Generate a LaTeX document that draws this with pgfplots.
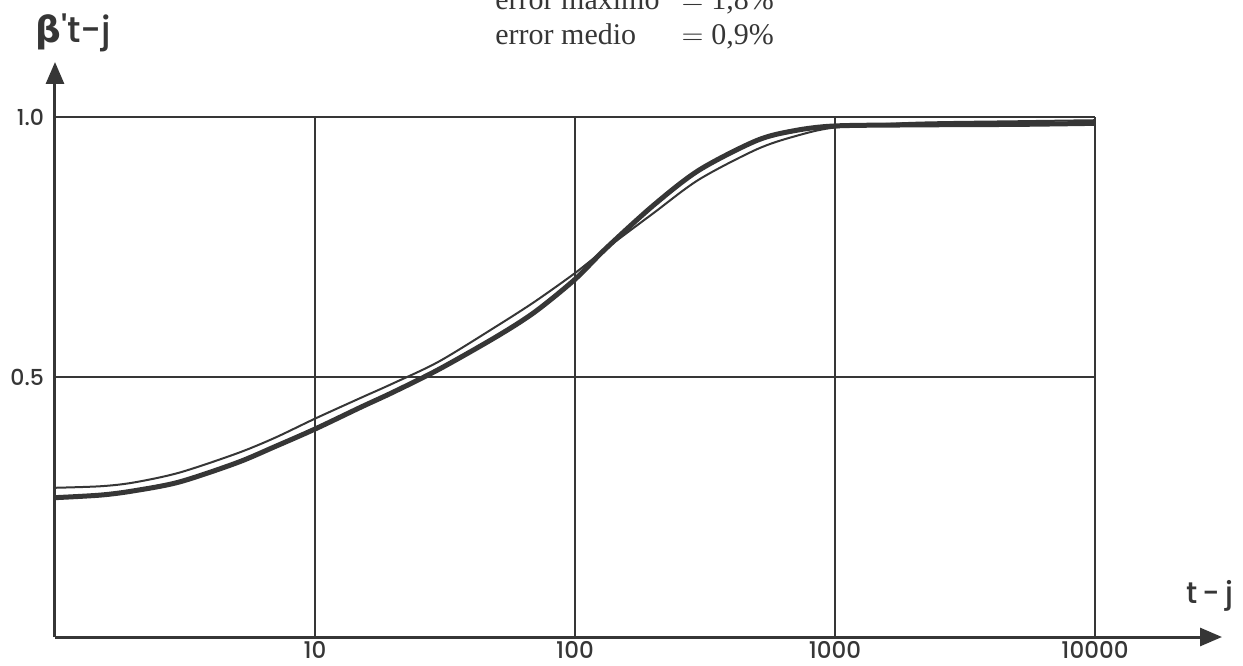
\documentclass[border=0pt]{standalone}
\usepackage{fontspec}
\setmainfont{Liberation Serif}
\newfontfamily\pop{Poppins}[UprightFont={* Medium}]
\newfontfamily\grk{DejaVu Sans}[UprightFont={* Bold}]
\usepackage{pgfplots}
\pgfplotsset{compat=1.18}
\usetikzlibrary{arrows.meta}
\definecolor{ink}{HTML}{363636}

\pgfplotstableread{
x y
1 0.268
1.5 0.273
2 0.281
3 0.298
5 0.335
7 0.366
10 0.400
15 0.442
20 0.471
30 0.515
50 0.578
70 0.625
100 0.688
130 0.745
200 0.830
300 0.898
500 0.955
700 0.974
1000 0.983
2000 0.985
5000 0.986
10000 0.988
}\thick

\pgfplotstableread{
x y
1 0.287
1.5 0.290
2 0.297
3 0.316
5 0.353
7 0.383
10 0.420
15 0.460
20 0.488
30 0.530
50 0.598
70 0.645
100 0.700
130 0.745
200 0.815
300 0.880
500 0.938
700 0.963
1000 0.980
2000 0.989
5000 0.992
10000 0.994
}\thin

\begin{document}
\begin{tikzpicture}
\path[use as bounding box] (-27.5pt,-14pt) rectangle (594pt,318.5pt);
\begin{axis}[
  at={(0,0)}, anchor=south west,
  scale only axis, width=583.5pt, height=287.5pt,
  xmode=log, xmin=1, xmax=30800, ymin=0, ymax=1.106,
  axis lines=left,
  axis line style={ink, line width=1.5pt, -{Triangle[length=11pt,width=9pt]}},
  xtick={10,100,1000,10000}, xticklabels={10,100,1000,10000},
  minor xtick={},
  ytick={0.5,1.0}, yticklabels={0.5,1.0},
  major tick length=0pt, minor tick length=0pt,
  xticklabel style={font=\pop\fontsize{11.5}{12}\selectfont, text=ink, yshift=1.5pt},
  yticklabel style={font=\pop\fontsize{11}{12}\selectfont, text=ink, xshift=-2pt},
  clip=false,
]
% grid lines
\addplot[ink, line width=0.7pt] coordinates {(1,1) (10000,1)};
\addplot[ink, line width=0.7pt] coordinates {(1,0.5) (10000,0.5)};
\addplot[ink, line width=0.7pt] coordinates {(10,0) (10,1)};
\addplot[ink, line width=0.7pt] coordinates {(100,0) (100,1)};
\addplot[ink, line width=0.7pt] coordinates {(1000,0) (1000,1)};
\addplot[ink, line width=0.9pt] coordinates {(10000,0) (10000,1)};
% curves
\addplot[ink, line width=1pt, smooth] table {\thin};
\addplot[ink, line width=2.5pt, smooth] table {\thick};
\end{axis}
\node[anchor=base west, inner sep=0, text=ink, font=\pop\fontsize{18}{20}\selectfont] at (-10pt,297pt) {{\grk β}'t-j};
\node[anchor=center, inner sep=0, text=ink, font=\pop\fontsize{15}{17}\selectfont] at (577.5pt,20.5pt) {t\,-\,j};
\node[anchor=base west, inner sep=0, text=ink, font=\fontsize{15}{17.5}\selectfont] at (220pt,296pt)
  {\begin{tabular}[b]{@{}l@{\hspace{11pt}}l@{}}error máximo & $=$\hspace{4pt}1,8\%\\ error medio & $=$\hspace{4pt}0,9\%\end{tabular}};
\end{tikzpicture}
\end{document}
